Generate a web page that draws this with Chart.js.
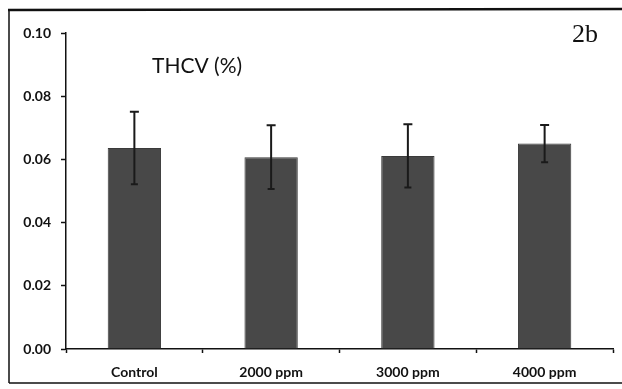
<html>
<head>
    <script src="https://cdn.jsdelivr.net/npm/chart.js@4.4.3/dist/chart.umd.min.js"></script>
    <style>
        body { margin: 0; background: #fff; }
        #wrap { width: 622px; height: 389px; }
    </style>
</head>
<body>
    <div id="wrap"><canvas id="mychart" width="622" height="389"></canvas></div>
    <script>
        labels = ["Control", "2000 ppm", "3000 ppm", "4000 ppm"];
        thcv = [0.0636, 0.0607, 0.0611, 0.0650];
        thcv_err = [0.0115, 0.0101, 0.0100, 0.0059];
        yticks = [0, 0.02, 0.04, 0.06, 0.08, 0.10];

        // frame, panel text and error bars
        extras = {
            id: "extras",
            beforeDraw(chart) {
                ctx = chart.ctx;
                ctx.save();
                ctx.fillStyle = "#fff";
                ctx.fillRect(0, 0, chart.width, chart.height);
                ctx.strokeStyle = "#111";
                ctx.lineWidth = 1.5;
                ctx.beginPath();
                ctx.moveTo(9, 383);
                ctx.lineTo(9, 10);
                ctx.moveTo(9, 383);
                ctx.lineTo(622, 383);
                ctx.stroke();
                ctx.lineWidth = 2.5;
                ctx.beginPath();
                ctx.moveTo(8, 10);
                ctx.lineTo(622, 9);
                ctx.stroke();
                ctx.restore();
            },
            afterDatasetsDraw(chart) {
                ctx = chart.ctx;
                y = chart.scales.y;
                meta = chart.getDatasetMeta(0);
                ctx.save();
                ctx.strokeStyle = "#1a1a1a";
                ctx.lineWidth = 2;
                meta.data.forEach(function (bar, i) {
                    top1 = y.getPixelForValue(thcv[i] + thcv_err[i]);
                    bot1 = y.getPixelForValue(thcv[i] - thcv_err[i]);
                    ctx.beginPath();
                    ctx.moveTo(bar.x, top1);
                    ctx.lineTo(bar.x, bot1);
                    ctx.moveTo(bar.x - 4.5, top1);
                    ctx.lineTo(bar.x + 4.5, top1);
                    ctx.moveTo(bar.x - 3.5, bot1);
                    ctx.lineTo(bar.x + 3.5, bot1);
                    ctx.stroke();
                });
                ctx.fillStyle = "#111";
                ctx.textAlign = "left";
                ctx.textBaseline = "alphabetic";
                ctx.font = "21px Lato";
                ctx.fillText("THCV (%)", 152, 73);
                ctx.font = "26px 'Liberation Serif'";
                ctx.fillText("2b", 572, 42);
                ctx.restore();
            }
        };

        datainfo = {
            labels: labels,
            datasets: [{
                label: "THCV (%)",
                data: thcv,
                backgroundColor: "#484848",
                borderColor: "#3a3a3a",
                borderWidth: 1,
                barPercentage: 0.39,
                categoryPercentage: 1.0
            }]
        };

        config = {
            type: "bar",
            data: datainfo,
            options: {
                responsive: false,
                animation: false,
                layout: { padding: { top: 33, right: 9, left: 0, bottom: 0 } },
                plugins: {
                    legend: { display: false },
                    tooltip: { enabled: false }
                },
                scales: {
                    x: {
                        afterFit(scale) { scale.height = 40; },
                        grid: { offset: true, drawOnChartArea: false, tickLength: 4, tickColor: "#111", tickWidth: 1.5 },
                        border: { color: "#111", width: 1.5 },
                        ticks: { color: "#111", padding: 11, font: { family: "Lato", size: 14, weight: "bold" } }
                    },
                    y: {
                        min: 0,
                        max: 0.10,
                        afterFit(scale) { scale.width = 66; },
                        afterBuildTicks(scale) { scale.ticks = yticks.map(function (v) { return { value: v }; }); },
                        grid: { drawOnChartArea: false, tickLength: 5, tickColor: "#111", tickWidth: 1.5 },
                        border: { color: "#111", width: 1.5 },
                        ticks: {
                            color: "#111",
                            padding: 10,
                            font: { family: "Lato", size: 14, weight: "bold" },
                            callback: function (v) { return Number(v).toFixed(2); }
                        }
                    }
                }
            },
            plugins: [extras]
        };
        new Chart(document.querySelector("#mychart"), config);
    </script>
</body>
</html>
